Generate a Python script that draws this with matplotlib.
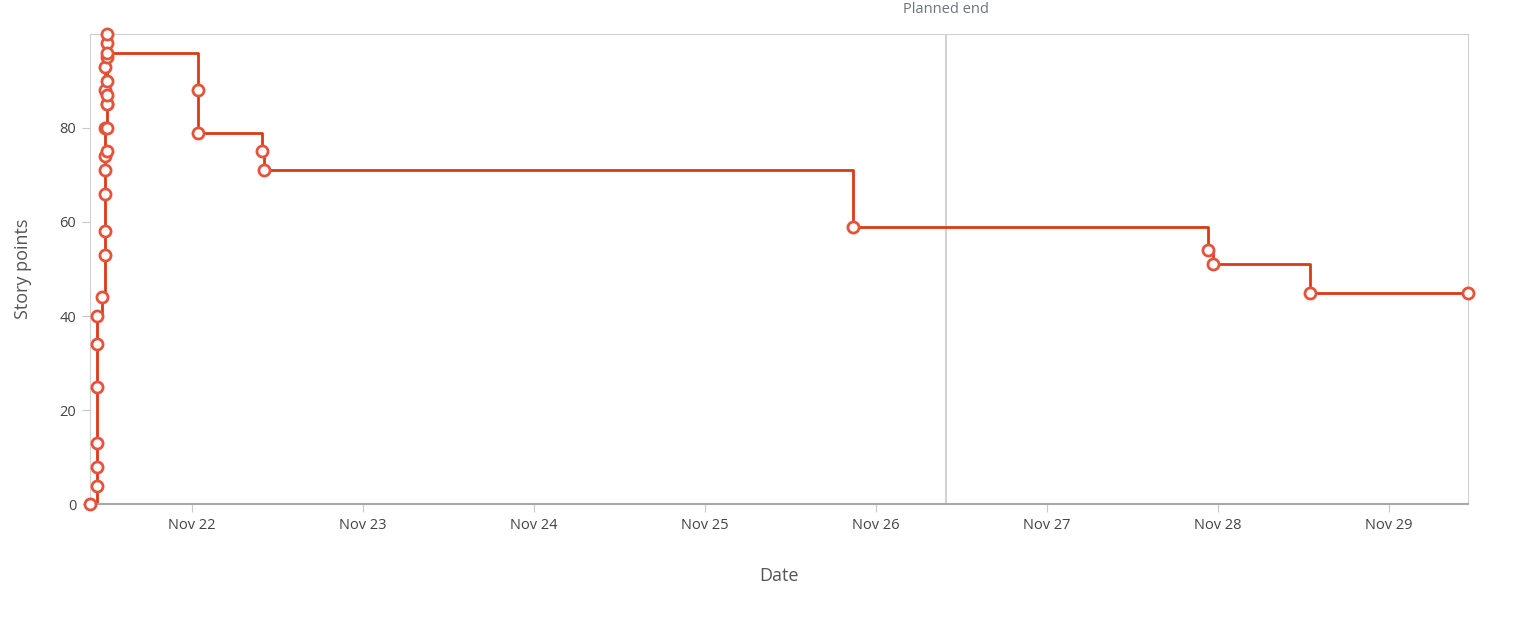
import matplotlib
matplotlib.use("Agg")
import matplotlib.pyplot as plt
import matplotlib.dates as mdates
import pandas as pd

plt.rcParams['font.family'] = ['Open Sans', 'DejaVu Sans']

times = ["2023-11-21 09:41", "2023-11-21 10:40", "2023-11-21 10:40", "2023-11-21 10:40",
         "2023-11-21 10:40", "2023-11-21 10:40", "2023-11-21 10:40", "2023-11-21 11:22",
         "2023-11-21 11:47", "2023-11-21 11:47", "2023-11-21 11:47", "2023-11-21 11:47",
         "2023-11-21 11:47", "2023-11-21 12:04", "2023-11-21 11:55", "2023-11-21 12:04",
         "2023-11-21 12:04", "2023-11-21 12:04", "2023-11-21 11:55", "2023-11-21 12:04",
         "2023-11-21 11:55", "2023-11-21 12:04", "2023-11-21 12:04", "2023-11-21 12:04",
         "2023-11-21 12:04", "2023-11-21 12:04",
         "2023-11-22 00:50", "2023-11-22 00:50", "2023-11-22 09:50", "2023-11-22 10:07",
         "2023-11-25 20:46", "2023-11-27 22:36", "2023-11-27 23:18", "2023-11-28 12:55",
         "2023-11-29 11:05"]
points = [0, 4, 8, 13, 25, 34, 40, 44,
          53, 58, 66, 71, 74, 75, 80, 80,
          85, 85, 88, 87, 93, 90, 95, 98, 100, 96,
          88, 79, 75, 71,
          59, 54, 51, 45, 45]
planned_end = "2023-11-26 09:50"

t = pd.to_datetime(times)
fig, ax = plt.subplots(figsize=(15.18, 6.25), dpi=100)
fig.subplots_adjust(left=0.059, right=0.967, top=0.946, bottom=0.193)

ax.plot(t, points, drawstyle="steps-post", color="#dc3a16", lw=2, zorder=2)
ax.plot(t, points, ls="none", marker="o", ms=8, mfc="white", mec="#e5533a", mew=2,
        zorder=3, clip_on=False)

pe = pd.Timestamp(planned_end)
ax.axvline(pe, color="#c8c8c8", lw=1.2, zorder=1)
ax.text(pe, 103.5, "Planned end", ha="center", va="bottom", fontsize=10.5, color="#6b7480")

ax.set_xlim(pd.Timestamp("2023-11-21 09:41"), pd.Timestamp("2023-11-29 11:05"))
ax.set_ylim(0, 100)
ax.set_yticks([0, 20, 40, 60, 80])
ax.xaxis.set_major_locator(mdates.DayLocator())
ax.xaxis.set_major_formatter(mdates.DateFormatter("Nov %d"))

for s in ["left", "top", "right"]:
    ax.spines[s].set_color("#d0d0d0")
ax.spines["bottom"].set_color("#a8a8a8")
ax.spines["bottom"].set_linewidth(1.5)
ax.tick_params(colors="#c8c8c8", labelcolor="#444444", labelsize=10.5, length=6)
ax.set_xlabel("Date", fontsize=13, color="#555555", labelpad=25)
ax.set_ylabel("Story points", fontsize=13, color="#555555", labelpad=20)

fig.savefig("out.png")
